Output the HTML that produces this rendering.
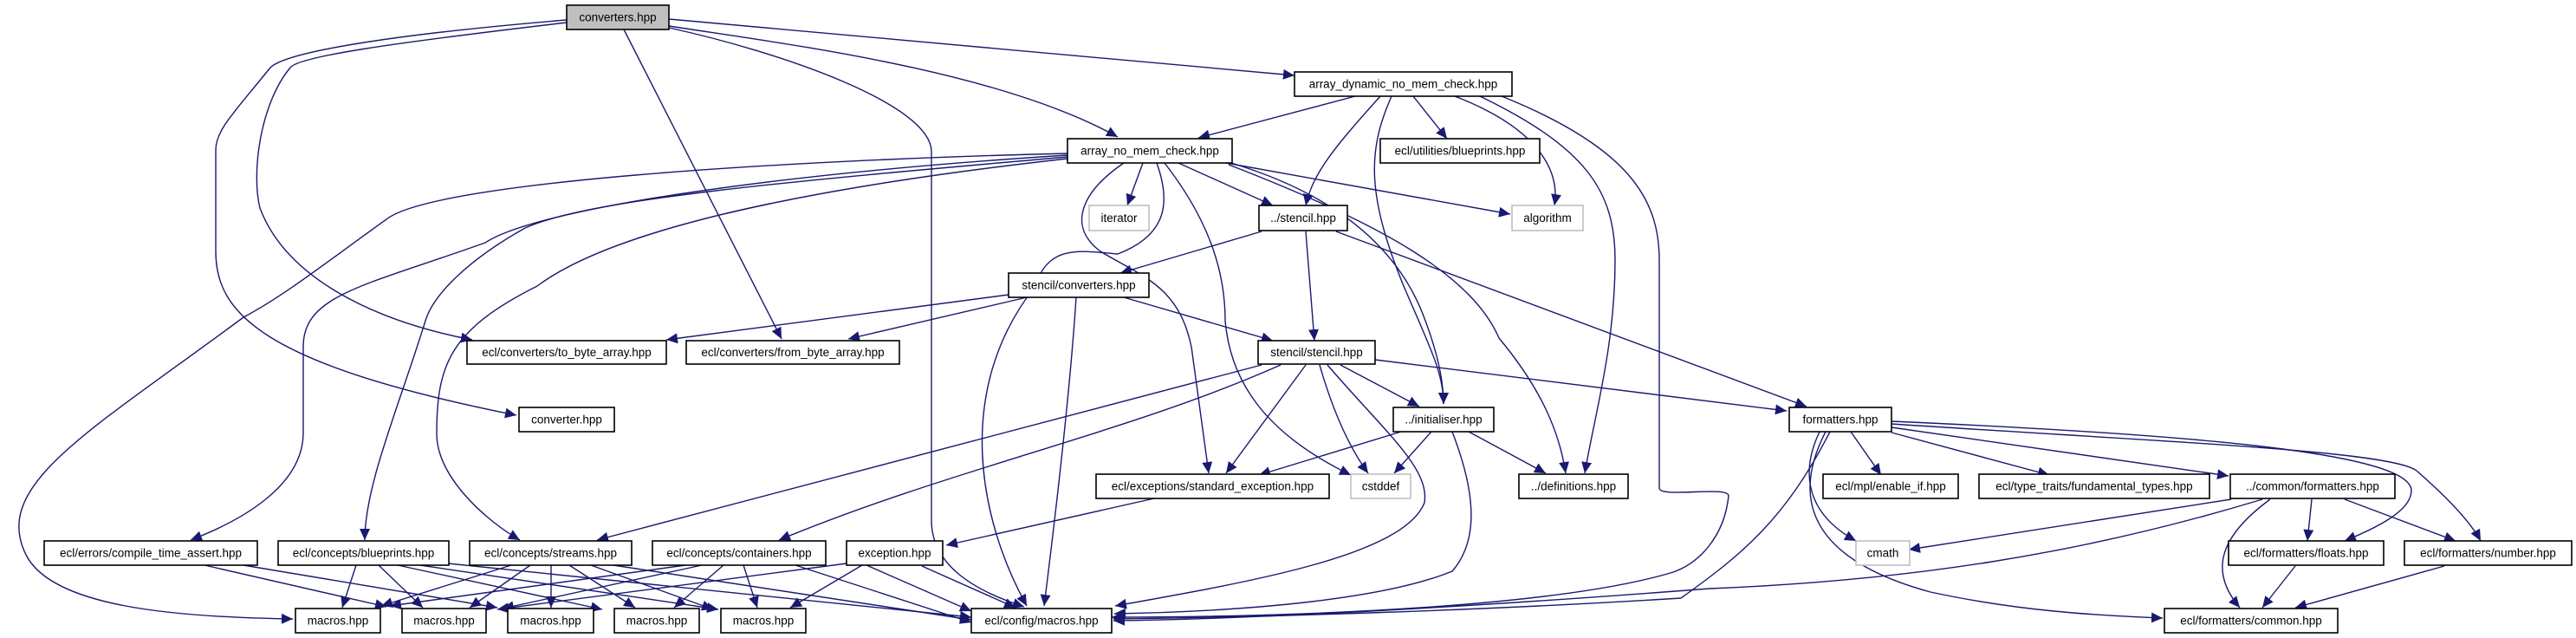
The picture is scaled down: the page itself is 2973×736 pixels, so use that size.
<!DOCTYPE html>
<html><head><meta charset="utf-8"><style>
html,body{margin:0;padding:0;background:#fff}
svg{display:block}
text{font-family:"Liberation Sans",sans-serif;font-size:13.5px;fill:#000;text-anchor:middle;dominant-baseline:central}
.e{fill:none;stroke:#191970;stroke-width:1.4}
.n{fill:#fff;stroke:#000;stroke-width:1.6}
.g{fill:#fff;stroke:#bfbfbf;stroke-width:1.6}
</style></head><body>
<svg width="2973" height="736" viewBox="0 0 2973 736" xmlns="http://www.w3.org/2000/svg">
<defs>
<marker id="a" markerUnits="userSpaceOnUse" markerWidth="14" markerHeight="12" refX="13" refY="6" orient="auto">
<path d="M0,0 L13,6 L0,12 z" fill="#191970"/>
</marker>
</defs>
<g class="e" marker-end="url(#a)">
<!-- converters.hpp -->
<path d="M772,22 L1494,87"/>
<path d="M772,30 C900,50 1150,80 1290,158"/>
<path d="M772,32 C900,60 1075,120 1075,175 L1075,600 C1075,650 1120,680 1182,700"/>
<path d="M654,26 C450,50 345,65 335,78 C300,120 290,200 300,240 C330,320 430,370 545,392"/>
<path d="M654,23 C450,40 330,60 312,78 C270,130 249,150 249,173 L249,290 C249,360 300,420 596,479"/>
<path d="M720,34 L902,391"/>
<!-- array_dynamic -->
<path d="M1564,111 L1383,159"/>
<path d="M1593,111 C1540,170 1515,200 1507,237"/>
<path d="M1631,111 L1670,160"/>
<path d="M1679,111 C1780,150 1800,200 1794,237"/>
<path d="M1606,111 C1580,170 1575,220 1620,330 C1650,400 1666,430 1666,466"/>
<path d="M1708,111 C1830,170 1864,220 1864,300 C1864,400 1840,480 1829,546"/>
<path d="M1733,111 C1880,170 1915,230 1915,300 L1915,563 C1915,575 1995,560 1995,572 C1990,620 1960,650 1931,660 C1800,700 1500,712 1283,712"/>
<!-- array_no_mem_check -->
<path d="M1319,188 L1301,237"/>
<path d="M1360,188 L1469,237"/>
<path d="M1415,188 L1743,247"/>
<path d="M1421,188 C1560,230 1620,300 1645,370 C1660,410 1666,440 1666,466"/>
<path d="M1418,190 C1600,260 1700,320 1730,390 C1780,450 1800,500 1807,546"/>
<path d="M1344,188 C1400,260 1414,320 1414,370 C1420,440 1460,500 1559,548"/>
<path d="M1297,188 C1250,220 1230,260 1270,290 C1320,320 1360,330 1375,400 L1395,546"/>
<path d="M1335,188 C1350,230 1350,270 1290,293 C1250,290 1210,280 1195,330 C1100,450 1130,600 1185,699"/>
<path d="M1232,177 C900,185 500,210 446,253 C380,300 330,340 281,366 C100,500 -10,560 30,640 C60,700 200,712 338,714"/>
<path d="M1232,179 C900,200 620,240 560,280 C420,330 350,340 350,400 L350,499 C350,560 280,600 220,623"/>
<path d="M1232,181 C900,210 680,230 606,263 C540,300 500,340 491,370 C460,470 421,560 421,623"/>
<path d="M1232,183 C900,220 700,270 620,330 C520,380 504,420 504,500 C504,550 560,600 600,623"/>
<!-- stencil/converters -->
<path d="M1164,340 L769,392"/>
<path d="M1185,343 L979,391"/>
<path d="M1297,343 L1469,393"/>
<path d="M1242,343 C1235,450 1220,580 1205,699"/>
<!-- ../stencil.hpp -->
<path d="M1456,267 L1293,315"/>
<path d="M1507,267 L1517,393"/>
<path d="M1542,267 L2085,469"/>
<!-- stencil/stencil -->
<path d="M1587,415 L2062,474"/>
<path d="M1547,421 L1638,469"/>
<path d="M1507,421 L1415,546"/>
<path d="M1523,421 C1540,480 1560,520 1579,546"/>
<path d="M1532,421 C1600,500 1650,540 1644,580 C1620,640 1450,670 1287,699"/>
<path d="M1456,421 L689,623"/>
<path d="M1478,421 C1300,500 1100,540 899,623"/>
<!-- initialiser -->
<path d="M1617,498 L1453,548"/>
<path d="M1652,498 L1609,546"/>
<path d="M1695,498 L1784,546"/>
<path d="M1676,498 C1700,560 1710,620 1676,659 C1600,690 1450,705 1286,708"/>
<!-- standard_exception -->
<path d="M1332,575 L1092,629"/>
<!-- lower row to macros -->
<path d="M236,652 L446,700"/>
<path d="M281,652 L574,701"/>
<path d="M411,652 L395,701"/>
<path d="M437,652 L488,701"/>
<path d="M459,652 L695,703"/>
<path d="M485,652 L829,703"/>
<path d="M517,650 L1121,712"/>
<path d="M590,652 L440,699"/>
<path d="M612,652 L542,701"/>
<path d="M636,652 L636,701"/>
<path d="M657,652 L733,701"/>
<path d="M682,652 L823,703"/>
<path d="M708,652 L1121,715"/>
<path d="M791,652 L450,699"/>
<path d="M810,652 L580,702"/>
<path d="M835,652 L778,701"/>
<path d="M858,652 L874,701"/>
<path d="M918,652 L1121,718"/>
<path d="M977,650 L574,703"/>
<path d="M995,652 L912,701"/>
<path d="M1000,652 L1121,705"/>
<path d="M1064,653 L1172,701"/>
<!-- formatters -->
<path d="M2136,498 L2171,548"/>
<path d="M2183,499 L2365,548"/>
<path d="M2183,493 L2572,549"/>
<path d="M2183,486 C2500,500 2783,520 2783,566 C2783,590 2740,610 2706,624"/>
<path d="M2183,489 C2500,510 2760,520 2789,543 C2820,570 2850,600 2863,624"/>
<path d="M2100,498 C2080,540 2080,590 2142,624"/>
<path d="M2107,498 C2075,560 2070,640 2228,683 C2330,705 2420,710 2496,713"/>
<path d="M2112,498 C2060,600 2010,640 1940,690 C1700,705 1450,712 1285,714"/>
<!-- common/formatters -->
<path d="M2575,576 L2203,634"/>
<path d="M2611,576 C2400,640 2200,670 1973,679 C1700,700 1450,714 1285,716"/>
<path d="M2668,576 L2663,624"/>
<path d="M2706,576 L2834,624"/>
<path d="M2620,576 C2560,620 2550,660 2585,701"/>
<path d="M2649,653 L2611,701"/>
<path d="M2821,653 L2649,701"/>
</g>
<!-- nodes -->
<rect x="654" y="6" width="118" height="28" fill="#bfbfbf" stroke="#000" stroke-width="1.6"/><text x="713" y="20">converters.hpp</text>
<rect class="n" x="1494" y="83" width="251" height="28"/><text x="1619.5" y="97">array_dynamic_no_mem_check.hpp</text>
<rect class="n" x="1232" y="160" width="190" height="28"/><text x="1327" y="174">array_no_mem_check.hpp</text>
<rect class="n" x="1593" y="160" width="184" height="28"/><text x="1685" y="174">ecl/utilities/blueprints.hpp</text>
<rect class="g" x="1257" y="237" width="69" height="29"/><text x="1291.5" y="251.5">iterator</text>
<rect class="n" x="1453" y="237" width="102" height="29"/><text x="1504" y="251.5">../stencil.hpp</text>
<rect class="g" x="1745" y="237" width="82" height="29"/><text x="1786" y="251.5">algorithm</text>
<rect class="n" x="1164" y="315" width="162" height="28"/><text x="1245" y="329">stencil/converters.hpp</text>
<rect class="n" x="539" y="393" width="230" height="27"/><text x="654" y="406.5">ecl/converters/to_byte_array.hpp</text>
<rect class="n" x="792" y="393" width="246" height="27"/><text x="915" y="406.5">ecl/converters/from_byte_array.hpp</text>
<rect class="n" x="1452" y="393" width="135" height="27"/><text x="1519.5" y="406.5">stencil/stencil.hpp</text>
<rect class="n" x="599" y="470" width="110" height="28"/><text x="654" y="484">converter.hpp</text>
<rect class="n" x="1608" y="470" width="116" height="28"/><text x="1666" y="484">../initialiser.hpp</text>
<rect class="n" x="2065" y="470" width="118" height="28"/><text x="2124" y="484">formatters.hpp</text>
<rect class="n" x="1265" y="547" width="269" height="28"/><text x="1399.5" y="561">ecl/exceptions/standard_exception.hpp</text>
<rect class="g" x="1559" y="547" width="69" height="28"/><text x="1593.5" y="561">cstddef</text>
<rect class="n" x="1753" y="547" width="126" height="28"/><text x="1816" y="561">../definitions.hpp</text>
<rect class="n" x="2104" y="547" width="156" height="28"/><text x="2182" y="561">ecl/mpl/enable_if.hpp</text>
<rect class="n" x="2284" y="547" width="266" height="28"/><text x="2417" y="561">ecl/type_traits/fundamental_types.hpp</text>
<rect class="n" x="2574" y="547" width="190" height="28"/><text x="2669" y="561">../common/formatters.hpp</text>
<rect class="n" x="51" y="624" width="246" height="28"/><text x="174" y="638">ecl/errors/compile_time_assert.hpp</text>
<rect class="n" x="321" y="624" width="197" height="28"/><text x="419.5" y="638">ecl/concepts/blueprints.hpp</text>
<rect class="n" x="542" y="624" width="187" height="28"/><text x="635.5" y="638">ecl/concepts/streams.hpp</text>
<rect class="n" x="753" y="624" width="200" height="28"/><text x="853" y="638">ecl/concepts/containers.hpp</text>
<rect class="n" x="977" y="624" width="111" height="28"/><text x="1032.5" y="638">exception.hpp</text>
<rect class="g" x="2142" y="624" width="62" height="28"/><text x="2173" y="638">cmath</text>
<rect class="n" x="2572" y="624" width="179" height="28"/><text x="2661.5" y="638">ecl/formatters/floats.hpp</text>
<rect class="n" x="2775" y="624" width="193" height="28"/><text x="2871.5" y="638">ecl/formatters/number.hpp</text>
<rect class="n" x="341" y="702" width="98" height="28"/><text x="390" y="716">macros.hpp</text>
<rect class="n" x="464" y="702" width="97" height="28"/><text x="512.5" y="716">macros.hpp</text>
<rect class="n" x="586" y="702" width="99" height="28"/><text x="635.5" y="716">macros.hpp</text>
<rect class="n" x="709" y="702" width="98" height="28"/><text x="758" y="716">macros.hpp</text>
<rect class="n" x="832" y="702" width="98" height="28"/><text x="881" y="716">macros.hpp</text>
<rect class="n" x="1121" y="702" width="162" height="28"/><text x="1202" y="716">ecl/config/macros.hpp</text>
<rect class="n" x="2498" y="702" width="200" height="28"/><text x="2598" y="716">ecl/formatters/common.hpp</text>
</svg>
</body></html>
